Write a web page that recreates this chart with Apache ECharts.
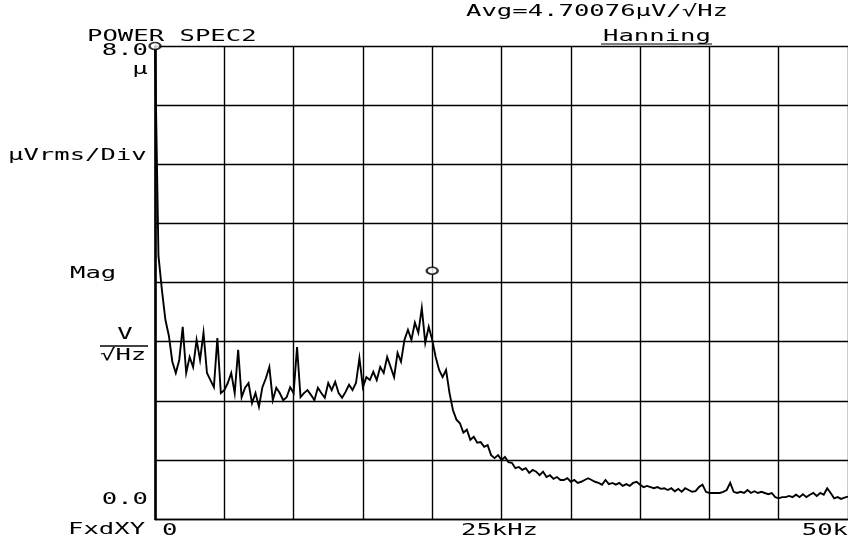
<!DOCTYPE html>
<html>
<head>
<meta charset="utf-8">
<script src="https://cdn.jsdelivr.net/npm/echarts@6/dist/echarts.min.js"></script>
<style>
html,body{margin:0;padding:0;background:#fff;}
#chart{width:848px;height:544px;}
</style>
</head>
<body>
<div id="chart"></div>
<script>
// ---- data ----
const freqStepHz = 250;             // spectrum line spacing
const magnitude = [                 // µVrms/√Hz, one value per line from 0 Hz to 50 kHz
  8.00, 4.45, 3.87, 3.37, 3.10, 2.66, 2.47, 2.69, 3.25, 2.47,
  2.74, 2.57, 3.03, 2.69, 3.15, 2.47, 2.35, 2.23, 3.06, 2.13,
  2.18, 2.30, 2.47, 2.13, 2.86, 2.06, 2.22, 2.30, 1.96, 2.13,
  1.90, 2.23, 2.38, 2.57, 2.01, 2.22, 2.13, 2.01, 2.06, 2.23,
  2.13, 2.91, 2.06, 2.13, 2.18, 2.10, 2.01, 2.22, 2.13, 2.05,
  2.30, 2.18, 2.32, 2.13, 2.05, 2.15, 2.27, 2.18, 2.30, 2.72,
  2.23, 2.40, 2.35, 2.49, 2.35, 2.57, 2.47, 2.74, 2.57, 2.40,
  2.81, 2.66, 3.03, 3.20, 3.03, 3.32, 3.15, 3.57, 2.98, 3.25,
  3.03, 2.74, 2.52, 2.40, 2.52, 2.13, 1.84, 1.68, 1.62, 1.46,
  1.51, 1.34, 1.39, 1.29, 1.30, 1.22, 1.25, 1.08, 1.03, 1.08,
  1.00, 1.05, 0.96, 0.95, 0.86, 0.88, 0.83, 0.86, 0.78, 0.83,
  0.80, 0.74, 0.80, 0.71, 0.74, 0.68, 0.71, 0.66, 0.66, 0.69,
  0.63, 0.66, 0.61, 0.63, 0.66, 0.69, 0.66, 0.63, 0.61, 0.58,
  0.66, 0.59, 0.61, 0.58, 0.61, 0.56, 0.59, 0.56, 0.61, 0.63,
  0.58, 0.54, 0.56, 0.54, 0.52, 0.54, 0.51, 0.52, 0.49, 0.52,
  0.47, 0.51, 0.46, 0.52, 0.49, 0.46, 0.47, 0.54, 0.58, 0.46,
  0.44, 0.44, 0.44, 0.44, 0.46, 0.49, 0.61, 0.46, 0.44, 0.46,
  0.44, 0.49, 0.44, 0.47, 0.44, 0.46, 0.44, 0.42, 0.44, 0.37,
  0.35, 0.37, 0.37, 0.39, 0.37, 0.41, 0.37, 0.42, 0.37, 0.41,
  0.44, 0.39, 0.44, 0.41, 0.52, 0.44, 0.35, 0.37, 0.34, 0.36,
  0.38
];
const markerFreq = [0, 20000];
const markerMag = [8.0, 4.2];
const xTickValues = [0, 25000, 50000];
const xTickLabels = ['0', '25kHz', '50k'];
const yTickValues = [0, 8];
const yTickLabels = ['0.0', '8.0'];
const titleText = 'POWER SPEC2';
const avgText = 'Avg=4.70076\u03bcV/\u221aHz';
const windowText = 'Hanning';
const yUnitText = '\u03bcVrms/Div';
const yPrefixText = '\u03bc';
const magText = 'Mag';
const unitNum = 'V';
const unitDen = '\u221aHz';
const xModeText = 'FxdXY';

// ---- chart ----
const chart = echarts.init(document.getElementById('chart'), null, {renderer: 'canvas'});
const seriesData = magnitude.map((v, i) => [i * freqStepHz, v]);
const markerData = markerFreq.map((f, i) => [f, markerMag[i]]);

const lineW = 1.4;
chart.setOption({
  animation: false,
  backgroundColor: '#fff',
  grid: {left: 155, top: 46, width: 696, height: 473, containLabel: false},
  xAxis: {
    type: 'value', min: 0, max: 50000, interval: 5000,
    axisLine: {show: true, lineStyle: {color: '#000', width: lineW}},
    axisTick: {show: false},
    axisLabel: {show: false},
    splitLine: {show: true, lineStyle: {color: '#000', width: lineW}}
  },
  yAxis: {
    type: 'value', min: 0, max: 8, interval: 1,
    axisLine: {show: true, onZero: false, lineStyle: {color: '#000', width: 2.6}},
    axisTick: {show: false},
    axisLabel: {show: false},
    splitLine: {show: true, lineStyle: {color: '#000', width: lineW}}
  },
  series: [
    {
      type: 'line', data: seriesData, symbol: 'none', clip: true,
      lineStyle: {color: '#000', width: 1.9, join: 'miter'}, z: 3
    },
    {
      type: 'scatter', data: markerData, symbol: 'circle', symbolSize: [11, 7],
      clip: false, z: 4,
      itemStyle: {color: '#fff', borderColor: '#000', borderWidth: 2}
    }
  ]
});

// ---- plotter-style text (wide monospace) ----
const FONT = '16px "DejaVu Sans Mono"';
const SX = 1.6;
function T(text, x, y, align) {
  return {
    type: 'text', x: x, y: y, scaleX: SX, silent: true, z: 10,
    style: {text: text, font: FONT, fill: '#000', textAlign: align || 'left', textVerticalAlign: 'middle'}
  };
}
const els = [];
els.push(T(titleText, 87, 37, 'left'));
els.push(T(avgText, 466, 12, 'left'));
els.push(T(windowText, 603, 37, 'left'));
els.push({type: 'line', silent: true, shape: {x1: 601, y1: 44, x2: 712, y2: 44}, style: {stroke: '#000', lineWidth: 1.2}});
els.push(T(yPrefixText, 140, 70, 'center'));
els.push(T(yUnitText, 8, 156, 'left'));
els.push(T(magText, 70, 274, 'left'));
els.push(T(unitNum, 125, 335, 'center'));
els.push({type: 'line', silent: true, shape: {x1: 100, y1: 346, x2: 148, y2: 346}, style: {stroke: '#000', lineWidth: 1.5}});
els.push(T(unitDen, 100, 356, 'left'));
els.push(T(xModeText, 68, 530, 'left'));

// tick labels positioned through the axes' own scales
xTickValues.forEach((v, i) => {
  const p = chart.convertToPixel({gridIndex: 0}, [v, 0]);
  let x = p[0], align = 'center';
  if (i === 0) { x = p[0] + 7; align = 'left'; }
  else if (i === xTickValues.length - 1) { x = 848; align = 'right'; }
  else { x = p[0] - 2; }
  els.push(T(xTickLabels[i], x, p[1] + 12, align));
});
yTickValues.forEach((v, i) => {
  const p = chart.convertToPixel({gridIndex: 0}, [0, v]);
  const dy = (i === 0) ? -19 : 5;
  els.push(T(yTickLabels[i], 148, p[1] + dy, 'right'));
});

chart.setOption({graphic: {elements: els}});
</script>
</body>
</html>
